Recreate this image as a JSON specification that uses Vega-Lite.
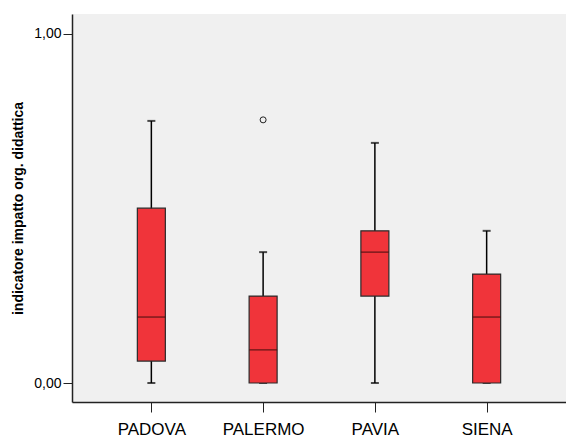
{
  "$schema": "https://vega.github.io/schema/vega-lite/v6.json",
  "autosize": {"type": "none"},
  "padding": {"left": 72, "top": 14, "right": 0, "bottom": 36},
  "width": 494,
  "height": 388,
  "background": "white",
  "config": {
    "view": {"fill": "#f0f0f0", "stroke": null},
    "font": "Liberation Sans",
    "axis": {"grid": false, "domainColor": "#222", "tickColor": "#222", "labelColor": "#000", "titleColor": "#000", "domainWidth": 1.5, "tickWidth": 1}
  },
  "datasets": {
    "boxes": [
      {"sede": "PADOVA", "lower": 0.0, "q1": 0.063, "median": 0.189, "q3": 0.501, "upper": 0.751},
      {"sede": "PALERMO", "lower": 0.0, "q1": 0.0, "median": 0.095, "q3": 0.249, "upper": 0.375},
      {"sede": "PAVIA", "lower": 0.0, "q1": 0.249, "median": 0.375, "q3": 0.436, "upper": 0.688},
      {"sede": "SIENA", "lower": 0.0, "q1": 0.0, "median": 0.189, "q3": 0.312, "upper": 0.436}
    ],
    "outliers": [
      {"sede": "PALERMO", "value": 0.754}
    ]
  },
  "layer": [
    {
      "data": {"name": "boxes"},
      "mark": {"type": "rule", "color": "#000", "strokeWidth": 1.5},
      "encoding": {
        "x": {"field": "sede", "type": "nominal", "sort": null,
              "scale": {"type": "point", "padding": 0.71},
              "axis": {"orient": "bottom", "title": null, "labelAngle": 0, "labelFontSize": 17, "tickSize": 10, "labelPadding": 9}},
        "y": {"field": "lower", "type": "quantitative",
              "scale": {"domain": [-0.0544, 1.0573], "nice": false, "zero": false},
              "axis": {"values": [0, 1], "labelExpr": "replace(format(datum.value, '.2f'), '.', ',')", "labelFontSize": 14, "tickSize": 9, "labelPadding": 2,
                       "title": "indicatore impatto org. didattica", "titleFontSize": 14, "titleFontWeight": "bold", "titlePadding": 8}},
        "y2": {"field": "upper"}
      }
    },
    {
      "data": {"name": "boxes"},
      "mark": {"type": "tick", "color": "#000", "thickness": 2, "size": 8},
      "encoding": {
        "x": {"field": "sede", "type": "nominal", "sort": null},
        "y": {"field": "lower", "type": "quantitative"}
      }
    },
    {
      "data": {"name": "boxes"},
      "mark": {"type": "tick", "color": "#000", "thickness": 2, "size": 8},
      "encoding": {
        "x": {"field": "sede", "type": "nominal", "sort": null},
        "y": {"field": "upper", "type": "quantitative"}
      }
    },
    {
      "data": {"name": "boxes"},
      "mark": {"type": "bar", "fill": "#f0343a", "stroke": "#2a2a2a", "strokeWidth": 1.2, "size": 28},
      "encoding": {
        "x": {"field": "sede", "type": "nominal", "sort": null},
        "y": {"field": "q1", "type": "quantitative"},
        "y2": {"field": "q3"}
      }
    },
    {
      "data": {"name": "boxes"},
      "mark": {"type": "tick", "color": "#4a1010", "thickness": 1.5, "size": 28},
      "encoding": {
        "x": {"field": "sede", "type": "nominal", "sort": null},
        "y": {"field": "median", "type": "quantitative"}
      }
    },
    {
      "data": {"name": "outliers"},
      "mark": {"type": "point", "shape": "circle", "filled": false, "stroke": "#222", "strokeWidth": 1, "size": 36, "opacity": 1},
      "encoding": {
        "x": {"field": "sede", "type": "nominal", "sort": null},
        "y": {"field": "value", "type": "quantitative"}
      }
    },
    {
      "mark": {"type": "rule", "color": "#222", "strokeWidth": 1.5},
      "encoding": {
        "y": {"datum": 1.0573, "type": "quantitative"}
      }
    }
  ]
}
